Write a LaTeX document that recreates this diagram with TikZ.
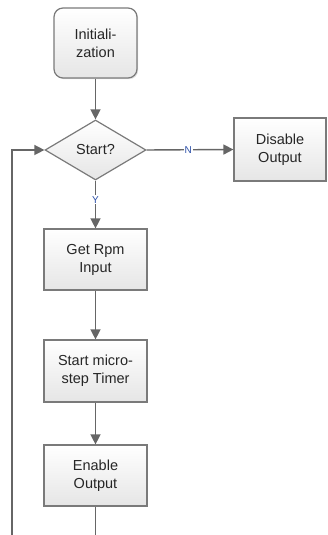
\documentclass[tikz,border=0pt]{standalone}
\usepackage{fontspec}
\setmainfont{Liberation Sans}
\usetikzlibrary{arrows.meta,shapes.geometric,shadows}
\definecolor{edgegray}{HTML}{666666}
\definecolor{boxline}{HTML}{7A7A7A}
\definecolor{lblblue}{HTML}{2B4FA8}
\begin{document}
\begin{tikzpicture}[x=1pt,y=1pt,
  every node/.style={font=\fontsize{14.5}{18}\selectfont, text=black!85, align=center},
  procbox/.style={rectangle, draw=boxline, line width=1.2pt, top color=white, bottom color=black!10,
     minimum width=103pt, minimum height=61pt, inner sep=0pt,
     drop shadow={shadow xshift=1.2pt, shadow yshift=-1.2pt, opacity=0.25}},
  startbox/.style={procbox, rounded corners=9pt, minimum width=83pt, minimum height=70pt},
  decbox/.style={diamond, draw=boxline, line width=1.2pt, top color=white, bottom color=black!10,
     minimum width=101pt, minimum height=60pt, aspect=1.68, inner sep=0pt},
  flow/.style={draw=edgegray, line width=1.4pt, -{Triangle[length=10pt,width=10pt]}},
  plain/.style={draw=edgegray, line width=1.4pt},
  lbl/.style={fill=white, text=lblblue, font=\fontsize{10}{12}\selectfont, inner sep=1pt}
]
\useasboundingbox (0,0) rectangle (327,535);
\node[startbox] (init) at (95.5,492) {Initiali-\\zation};
\node[decbox] (start) at (95.5,385) {Start?};
\node[procbox, minimum width=92pt, minimum height=63pt] (dis) at (280,385.5) {Disable\\Output};
\node[procbox] (rpm) at (95.5,275.5) {Get Rpm\\Input};
\node[procbox, minimum height=62pt] (timer) at (95.5,164) {Start micro-\\step Timer};
\node[procbox] (enable) at (95.5,59.5) {Enable\\Output};
\coordinate (bot) at (95.5,0);
\coordinate (loopbot) at (12,0);
\coordinate (loopturn) at (12,385);

\draw[flow] (init) -- (start);
\draw[flow] (start.east) -- node[lbl, pos=0.48] {N} (dis.west);
\draw[flow] (start.south) -- node[lbl, pos=0.4] {Y} (rpm.north);
\draw[flow] (rpm) -- (timer);
\draw[flow] (timer) -- (enable);
\draw[plain] (enable) -- (bot);
\draw[flow] (loopbot) -- (loopturn) -- (start.west);
\end{tikzpicture}
\end{document}
